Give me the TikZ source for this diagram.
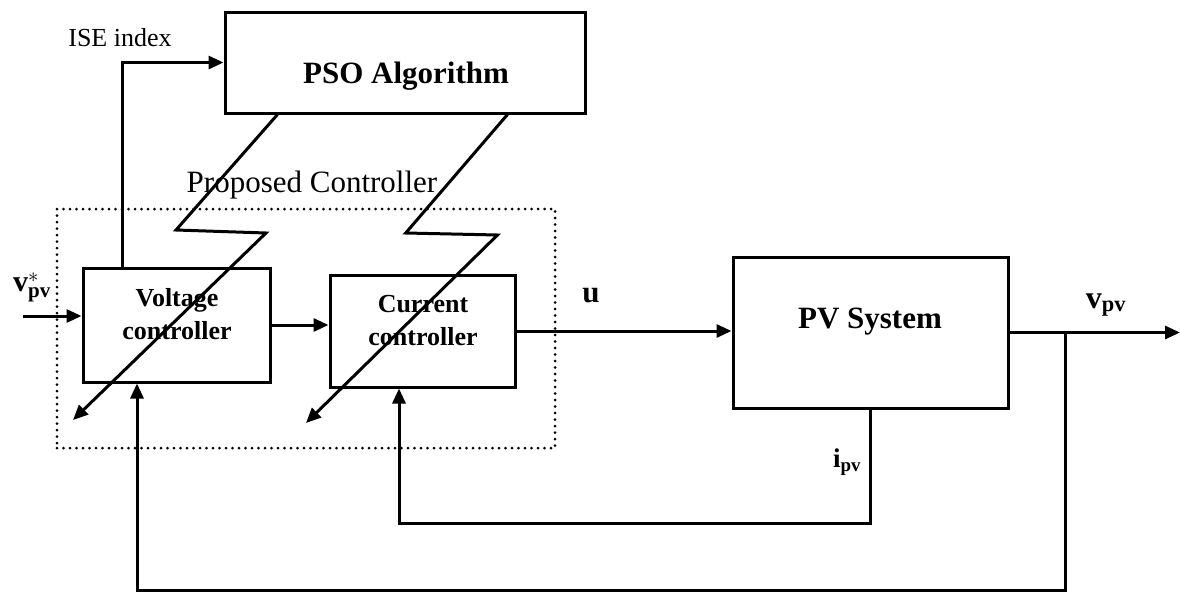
\documentclass[tikz,border=0pt]{standalone}
\usepackage{amsmath}
\usepackage{fontspec}
\setmainfont{Liberation Serif}
\usetikzlibrary{arrows.meta,calc}
\tikzset{
  blk/.style={draw, line width=3pt, minimum width=#1, inner sep=0pt},
  wire/.style={line width=3pt},
  arr/.style={wire, -{Triangle[length=15pt,width=13pt]}},
  frame/.style={line width=3pt, line cap=round, dash pattern=on 0pt off 6.5pt},
  bigbold/.style={font=\fontsize{31}{37}\selectfont\bfseries},
  midbold/.style={font=\fontsize{26}{33}\selectfont\bfseries, align=center},
  plain/.style={font=\fontsize{#1}{#1}\selectfont},
}
\begin{document}
\begin{tikzpicture}[x=1pt,y=-1pt]
\useasboundingbox (0,0) rectangle (1180,592);
% boxes
\node[blk=360pt, minimum height=101pt] (pso) at (405,62.5) {};
\node[blk=187pt, minimum height=114pt] (volt) at (176.5,325) {};
\node[blk=185pt, minimum height=112pt] (cur) at (422.5,331) {};
\node[blk=275pt, minimum height=151pt] (pv) at (870.5,332.5) {};
\node[frame, draw, minimum width=498pt, minimum height=239pt, inner sep=0pt] (pc) at (306,328.5) {};
% box texts
\node[bigbold] (psot) at (406,76) {PSO Algorithm};
\node[midbold] (voltt) at (177,314) {Voltage\\controller};
\node[midbold] (curt) at (423,321) {Current\\controller};
\node[bigbold] (pvt) at (870,322) {PV System};
% labels
\node[plain=26] (ise) at (120,38) {ISE index};
\node[plain=31] (pct) at (312,185) {Proposed Controller};
\node[font=\fontsize{30}{32}\selectfont, inner sep=0pt] (vref) at (32,287) {\textbf{v}$^{*}_{\textbf{pv}}$};
\node[font=\fontsize{31}{33}\selectfont\bfseries] (ulab) at (591,296) {u};
\node[font=\fontsize{32}{34}\selectfont, inner sep=0pt] (vpv) at (1106,305) {\textbf{v}$_{\textbf{pv}}$};
\node[font=\fontsize{27}{29}\selectfont, inner sep=0pt] (ipv) at (847,462) {\textbf{i}$_{\textbf{pv}}$};
% coordinates
\coordinate (in) at (23,316);
\coordinate (out) at (1180,332.5);
\coordinate (br) at (1065,332.5);
\coordinate (bl) at (1065,590);
\coordinate (fb) at (137,590);
\coordinate (ib) at (399,523);
\coordinate (isex) at (122,61);
% signal wires
\draw[arr] (in) -- (in -| volt.west);
\draw[arr] (volt.east) -- (volt.east -| cur.west);
\draw[arr] (cur.east) -- (cur.east -| pv.west);
\draw[arr] (pv.east) -- (out);
\draw[arr] (br) -- (bl) -- (fb) -- (fb |- volt.south);
\draw[arr] (pv.south) -- (pv.south |- ib) -- (ib) -- (ib |- cur.south);
\draw[arr] (isex |- volt.north) -- (isex |- pso.west) -- (pso.west);
% lightning arrows
\draw[arr, line join=miter] ([xshift=54pt]pso.south west) -- (176,230) -- (266,233) -- (73,420);
\draw[arr, line join=miter] ([xshift=284pt]pso.south west) -- (405.7,233) -- (497.5,235) -- (306,423);
\end{tikzpicture}
\end{document}
